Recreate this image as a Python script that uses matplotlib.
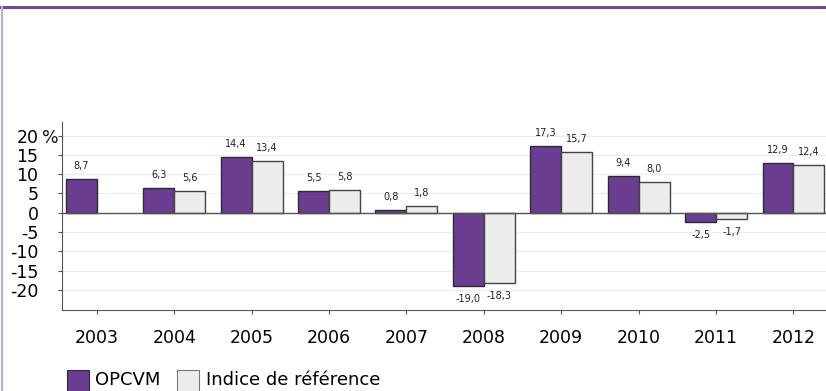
import matplotlib.pyplot as plt
import numpy as np
from matplotlib.patches import Rectangle

years = ['2003', '2004', '2005', '2006', '2007', '2008', '2009', '2010', '2011', '2012']
opcvm = [8.7, 6.3, 14.4, 5.5, 0.8, -19.0, 17.3, 9.4, -2.5, 12.9]
indice = [None, 5.6, 13.4, 5.8, 1.8, -18.3, 15.7, 8.0, -1.7, 12.4]
yticks = [20, 15, 10, 5, 0, -5, -10, -15, -20]

purple = '#6a3d91'
grey = '#ececec'
edge = '#2e2a33'

fig = plt.figure(figsize=(8.26, 3.91), dpi=100)
ax = fig.add_axes([62 / 826, 81 / 391, (826 - 62) / 826, 188 / 391])

x = np.arange(len(years))
w = 0.4


def fmt(v):
    return ('%.1f' % v).replace('.', ',')


for i in range(len(years)):
    v = opcvm[i]
    ax.bar(x[i] - w / 2, v, w, color=purple, edgecolor=edge, linewidth=1.0, zorder=3)
    ax.text(x[i] - w / 2, v + (3.4 if v >= 0 else -3.4), fmt(v),
            ha='center', va='center', fontsize=7, color='#222222')
    if indice[i] is not None:
        v = indice[i]
        ax.bar(x[i] + w / 2, v, w, color=grey, edgecolor='#444444', linewidth=1.0, zorder=3)
        ax.text(x[i] + w / 2, v + (3.4 if v >= 0 else -3.4), fmt(v),
                ha='center', va='center', fontsize=7, color='#222222')

ax.axhline(0, color='#555555', linewidth=1.0, zorder=4)
ax.set_xlim(-0.45, 9.42)
ax.set_ylim(-25.2, 23.5)

ax.set_yticks(yticks)
ax.set_yticklabels([str(t) for t in yticks], fontsize=12.5)
ax.tick_params(axis='y', length=3, color='#555555', pad=14)
ax.text(-0.026, 20, '%', transform=ax.get_yaxis_transform(), fontsize=12.5,
        ha='left', va='center_baseline', color='#111111')
ax.yaxis.grid(True, color='#ececec', linewidth=0.8, zorder=0)

ax.set_xticks(x)
ax.set_xticklabels(years, fontsize=12.5)
ax.tick_params(axis='x', length=3, color='#555555', pad=11)

for s in ['top', 'right']:
    ax.spines[s].set_visible(False)
ax.spines['left'].set_color('#555555')
ax.spines['bottom'].set_color('#555555')

# legend
fig.patches.append(Rectangle((67 / 826, 1 - 392 / 391), 22 / 826, 22 / 391, transform=fig.transFigure,
                             facecolor=purple, edgecolor=edge, linewidth=0.8))
fig.text(95 / 826, 1 - 380 / 391, 'OPCVM', fontsize=13, va='center', ha='left')
fig.patches.append(Rectangle((177 / 826, 1 - 392 / 391), 22 / 826, 22 / 391, transform=fig.transFigure,
                             facecolor=grey, edgecolor='#777777', linewidth=0.8))
fig.text(206 / 826, 1 - 380 / 391, 'Indice de référence', fontsize=13, va='center', ha='left')

# frame
fig.add_artist(plt.Line2D([0, 1], [1 - 7 / 391, 1 - 7 / 391], transform=fig.transFigure,
                          color='#6e4a94', linewidth=2.2))
fig.add_artist(plt.Line2D([1.5 / 826, 1.5 / 826], [0, 1 - 7 / 391], transform=fig.transFigure,
                          color='#b9aed6', linewidth=1.5))

fig.savefig('out.png', dpi=100)
